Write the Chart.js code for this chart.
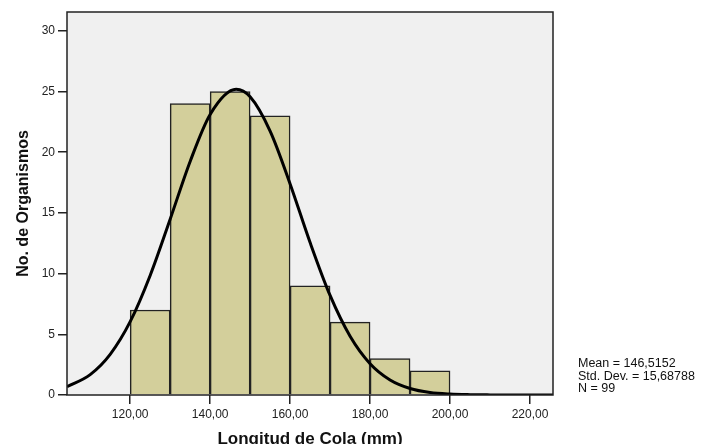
<!DOCTYPE html>
<html lang="es">
<head>
  <meta charset="UTF-8">
  <title>Longitud de Cola</title>
  <script src="https://cdn.jsdelivr.net/npm/chart.js"></script>
  <style>
    body { margin: 0; background: #fff; }
    #wrap { width: 712px; height: 444px; }
  </style>
</head>
<body>
<div id="wrap"><canvas id="grafica" width="712" height="444"></canvas></div>
<script>
  // histograma: centros de clase y frecuencias
  const binCenters = [125, 135, 145, 155, 165, 175, 185, 195];
  const counts = [7, 24, 25, 23, 9, 6, 3, 2];

  // curva normal
  const curveX = [104.2, 110, 115, 120, 125, 130, 135, 140, 146.5, 150, 155, 160, 165, 170, 175, 180, 185, 190, 195, 200, 205, 210, 215, 225.75];
  const curveY = [0.68, 1.68, 3.35, 6.04, 9.85, 14.48, 19.24, 23.11, 25.18, 24.56, 21.74, 17.39, 12.56, 8.2, 4.84, 2.58, 1.24, 0.54, 0.21, 0.08, 0.03, 0.01, 0, 0];

  const xTicks = [120, 140, 160, 180, 200, 220];
  const yTicks = [0, 5, 10, 15, 20, 25, 30];
  const statsText = ['Mean = 146,5152', 'Std. Dev. = 15,68788', 'N = 99'];

  const fontFam = "'Liberation Sans', Arial, sans-serif";

  const fondo = {
    id: 'fondo',
    beforeDraw(chart) {
      const { ctx, chartArea: a } = chart;
      ctx.save();
      ctx.fillStyle = '#f0f0f0';
      ctx.fillRect(a.left, a.top, a.right - a.left, a.bottom - a.top);
      ctx.restore();
    },
    afterDraw(chart) {
      const { ctx, chartArea: a } = chart;
      ctx.save();
      ctx.strokeStyle = '#222';
      ctx.lineWidth = 1.5;
      ctx.strokeRect(a.left, a.top, a.right - a.left, a.bottom - a.top);
      ctx.fillStyle = '#111';
      ctx.font = '12.5px ' + fontFam;
      ctx.textBaseline = 'middle';
      statsText.forEach((t, i) => ctx.fillText(t, a.right + 25, 364 + i * 12.3));
      ctx.restore();
    }
  };

  new Chart(document.getElementById('grafica'), {
    data: {
      datasets: [
        {
          type: 'line',
          data: curveX.map((x, i) => ({ x: x, y: curveY[i] })),
          borderColor: '#000',
          borderWidth: 3,
          pointRadius: 0,
          fill: false,
          cubicInterpolationMode: 'monotone',
          order: 0
        },
        {
          type: 'bar',
          data: binCenters.map((x, i) => ({ x: x, y: counts[i] })),
          backgroundColor: '#d3cf9b',
          borderColor: '#222',
          borderWidth: 1.5,
          barPercentage: 1,
          categoryPercentage: 1,
          grouped: false,
          order: 1
        }
      ]
    },
    options: {
      responsive: false,
      animation: false,
      layout: { padding: { top: 12, right: 159, left: 0, bottom: 0 } },
      plugins: { legend: { display: false }, tooltip: { enabled: false } },
      scales: {
        x: {
          type: 'linear',
          min: 104.2,
          max: 225.75,
          offset: false,
          afterBuildTicks: s => { s.ticks = xTicks.map(v => ({ value: v })); },
          afterFit: s => { s.height = 49; },
          grid: { offset: false, drawOnChartArea: false, tickLength: 9, color: '#222', lineWidth: 1.5 },
          border: { display: false },
          ticks: {
            color: '#222',
            font: { family: fontFam, size: 12 },
            padding: 3,
            maxRotation: 0,
            callback: v => v.toFixed(2).replace('.', ',')
          },
          title: {
            display: true,
            text: 'Longitud de Cola (mm)',
            color: '#111',
            font: { family: fontFam, size: 17, weight: 'bold', lineHeight: 1 },
            padding: { top: 4, bottom: -4 }
          }
        },
        y: {
          min: 0,
          max: 31.55,
          afterBuildTicks: s => { s.ticks = yTicks.map(v => ({ value: v })); },
          afterFit: s => { s.width = 67; },
          grid: { drawOnChartArea: false, tickLength: 9, color: '#222', lineWidth: 1.5 },
          border: { display: false },
          ticks: {
            color: '#222',
            font: { family: fontFam, size: 12 },
            padding: 3
          },
          title: {
            display: true,
            text: 'No. de Organismos',
            color: '#111',
            font: { family: fontFam, size: 16, weight: 'bold', lineHeight: 1 },
            padding: { top: 16, bottom: 0 }
          }
        }
      }
    },
    plugins: [fondo]
  });
</script>
</body>
</html>
